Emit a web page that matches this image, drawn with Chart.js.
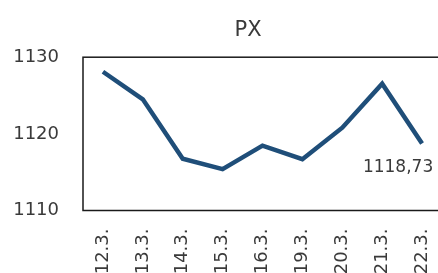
<!DOCTYPE html>
<html>
<head>
<meta charset="utf-8">
<script src="https://cdn.jsdelivr.net/npm/chart.js@4/dist/chart.umd.min.js"></script>
<style>
  html, body { margin: 0; padding: 0; background: #fff; overflow: hidden; }
  #wrap { width: 496px; height: 273px; position: relative; }
</style>
</head>
<body>
<div id="wrap"><canvas id="c" width="496" height="273"></canvas></div>
<script>
const categories = ["12.3.", "13.3.", "14.3.", "15.3.", "16.3.", "19.3.", "20.3.", "21.3.", "22.3."];
const pxValues = [1128.1, 1124.5, 1116.75, 1115.4, 1118.46, 1116.7, 1120.8, 1126.55, 1118.73];
const yTicks = [1110, 1120, 1130];
const chartTitle = "PX";
const lastLabel = "1118,73";

const FONT = "'DejaVu Sans', sans-serif";
const TEXT = "#3a3a3a";

const frame = {
  id: 'frame',
  beforeDatasetsDraw(chart) {
    const a = chart.chartArea, ctx = chart.ctx;
    ctx.save();
    ctx.strokeStyle = '#1a1a1a';
    ctx.lineWidth = 1.5;
    ctx.strokeRect(a.left, a.top, a.right - a.left, a.bottom - a.top);
    ctx.restore();
  }
};

const titleShift = {
  id: 'titleShift',
  afterLayout(chart) {
    if (chart.titleBlock) { chart.titleBlock.left = 54; }
  }
};

const lastValueLabel = {
  id: 'lastValueLabel',
  afterDatasetsDraw(chart) {
    const meta = chart.getDatasetMeta(0);
    const pt = meta.data[meta.data.length - 1];
    const ctx = chart.ctx;
    ctx.save();
    ctx.font = "17px " + FONT;
    ctx.fillStyle = TEXT;
    ctx.textAlign = 'center';
    ctx.textBaseline = 'middle';
    ctx.fillText(lastLabel, pt.x - 24, pt.y + 24);
    ctx.restore();
  }
};

new Chart(document.getElementById('c'), {
  type: 'line',
  data: {
    labels: categories,
    datasets: [{
      data: pxValues,
      borderColor: '#1F4E79',
      borderWidth: 4.5,
      pointRadius: 0,
      tension: 0,
      fill: false
    }]
  },
  options: {
    responsive: false,
    animation: false,
    layout: { padding: { left: 0, right: 54, top: 0, bottom: 0 } },
    plugins: {
      legend: { display: false },
      tooltip: { enabled: false },
      title: {
        display: true,
        text: chartTitle,
        color: TEXT,
        font: { family: FONT, size: 21, weight: 'normal' },
        padding: { top: 18, bottom: 14 }
      }
    },
    scales: {
      x: {
        offset: true,
        grid: { display: false, drawTicks: false },
        border: { display: false },
        ticks: {
          color: TEXT,
          font: { family: FONT, size: 18 },
          minRotation: 90,
          maxRotation: 90,
          autoSkip: false,
          padding: 18
        },
        afterFit(s) { s.height = 62.5; }
      },
      y: {
        min: 1110,
        max: 1130,
        grid: { display: false, drawTicks: false },
        border: { display: false },
        afterBuildTicks(s) { s.ticks = yTicks.map(v => ({ value: v })); },
        ticks: {
          color: TEXT,
          font: { family: FONT, size: 18 },
          padding: 24,
          callback: (v) => String(v)
        },
        afterFit(s) { s.width = 83; }
      }
    }
  },
  plugins: [frame, titleShift, lastValueLabel]
});
</script>
</body>
</html>
